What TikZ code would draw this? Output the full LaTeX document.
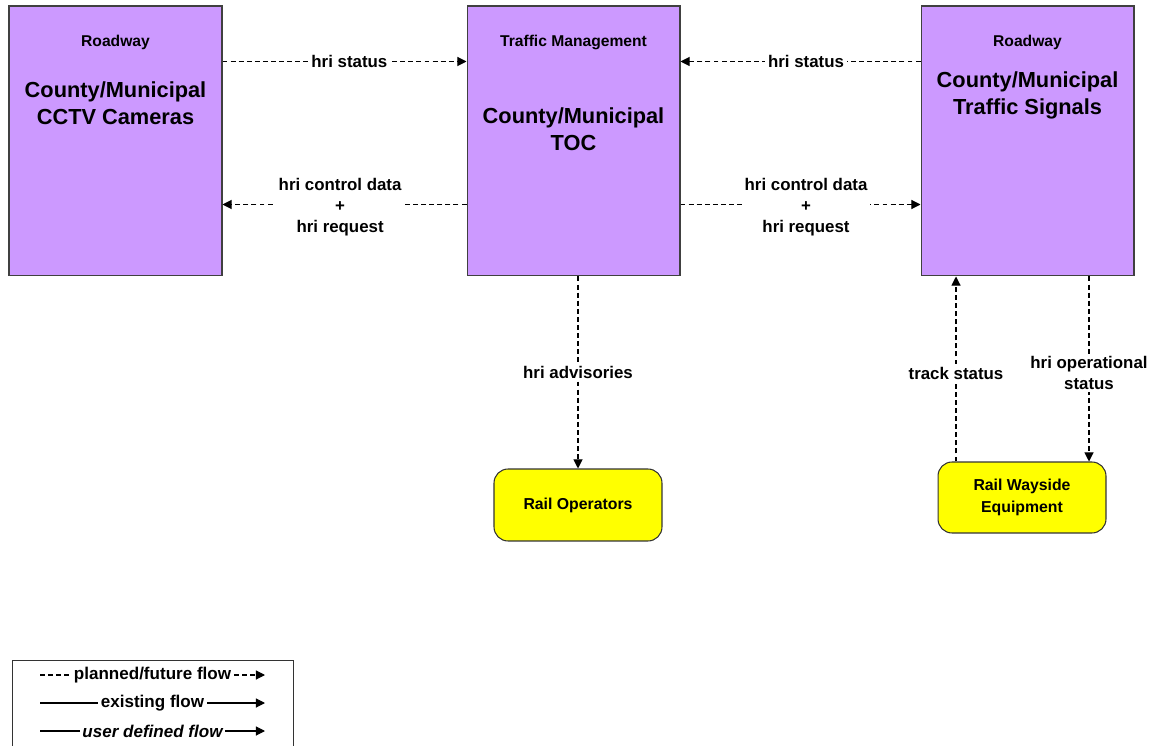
\documentclass[tikz,border=0pt]{standalone}
\usepackage{xcolor}
\usepackage{fontspec}
\setmainfont{Liberation Sans}
\usepackage{tikz}
\usetikzlibrary{arrows.meta,calc}
\definecolor{Lilac}{HTML}{CC99FF}
\definecolor{BoxYellow}{HTML}{FFFF00}

\begin{document}
\begin{tikzpicture}[x=0.02cm, y=-0.02cm,
	line width = 0.6pt,
	element/.style={draw=black!75, fill=Lilac, rectangle, minimum width=4.26cm, minimum height=5.4cm, inner sep=0pt},
	terminator/.style={draw=black!80, fill=BoxYellow, rectangle, rounded corners=0.28cm, minimum width=3.36cm, align=center, font=\fontsize{9}{12.5}\selectfont\bfseries},
	kind/.style={font=\fontsize{8.9}{11}\selectfont\bfseries},
	title/.style={align=center, font=\fontsize{12.4}{15.3}\selectfont\bfseries},
	flow/.style={dash pattern=on 2.8pt off 1.8pt, -{Triangle[length=5.2pt,width=5.2pt]}},
	solidflow/.style={-{Triangle[length=5.2pt,width=5.2pt]}},
	flowlabel/.style={fill=white, align=center, inner sep=1.5pt, font=\fontsize{9.6}{11.9}\selectfont\bfseries}]

	\useasboundingbox (0,0) rectangle (1156,746);

	\node [element] (cctv) at (115.5,141) {};
	\node [element] (toc) at (573.5,141) {};
	\node [element] (sig) at (1027.5,141) {};

	\node [kind] at ($(cctv.north)+(0,37)$) {Roadway};
	\node [title] at ($(cctv.north)+(0,97.5)$) {County/Municipal\\CCTV Cameras};
	\node [kind] at ($(toc.north)+(0,37)$) {Traffic Management};
	\node [title] at ($(toc.north)+(0,123.5)$) {County/Municipal\\TOC};
	\node [kind] at ($(sig.north)+(0,37)$) {Roadway};
	\node [title] at ($(sig.north)+(0,90)$) {County/Municipal\\Traffic Signals};

	\node [terminator, minimum height=1.44cm] (ops) at (578,505) {Rail Operators};
	\node [terminator, minimum height=1.42cm] (way) at (1022,497.5) {Rail Wayside\\Equipment};

	\draw [flow] ($(cctv.north east)+(0,56)$) -- node[flowlabel, pos=0.52] {hri status} ($(toc.north west)+(0,56)$);
	\draw [flow] ($(sig.north west)+(0,56)$) -- node[flowlabel, pos=0.477] {hri status} ($(toc.north east)+(0,56)$);
	\draw [flow] ($(toc.north west)+(0,199)$) -- node[flowlabel, pos=0.518, yshift=-0.05cm] {hri control data\\+\\hri request} ($(cctv.north east)+(0,199)$);
	\draw [flow] ($(toc.north east)+(0,199)$) -- node[flowlabel, pos=0.523, yshift=-0.05cm] {hri control data\\+\\hri request} ($(sig.north west)+(0,199)$);
	\draw [flow] (toc.south -| ops.north) -- node[flowlabel] {hri advisories} (ops.north);

	\coordinate (trk) at ($(way.north)+(-66,0)$);
	\coordinate (opst) at ($(way.north)+(67,0)$);
	\draw [flow] (trk) -- node[flowlabel, yshift=-0.08cm] {track status} (trk |- sig.south);
	\draw [flow] (opst |- sig.south) -- node[flowlabel, yshift=-0.08cm] {hri operational\\status} (opst);

	\draw [line width=0.5pt, black!80] (12,750) -- (12,660) -- (293,660) -- (293,750);
	\coordinate (l1a) at (40,675);
	\coordinate (l1b) at (265,675);
	\coordinate (l2a) at (40,703);
	\coordinate (l2b) at (265,703);
	\coordinate (l3a) at (40,731);
	\coordinate (l3b) at (265,731);
	\draw [flow] (l1a) -- node[flowlabel, font=\fontsize{9.7}{12}\selectfont\bfseries] {planned/future flow} (l1b);
	\draw [solidflow] (l2a) -- node[flowlabel, font=\fontsize{9.7}{12}\selectfont\bfseries] {existing flow} (l2b);
	\draw [solidflow] (l3a) -- node[flowlabel, font=\fontsize{9.7}{12}\selectfont\bfseries\itshape] {user defined flow} (l3b);

\end{tikzpicture}
\end{document}
